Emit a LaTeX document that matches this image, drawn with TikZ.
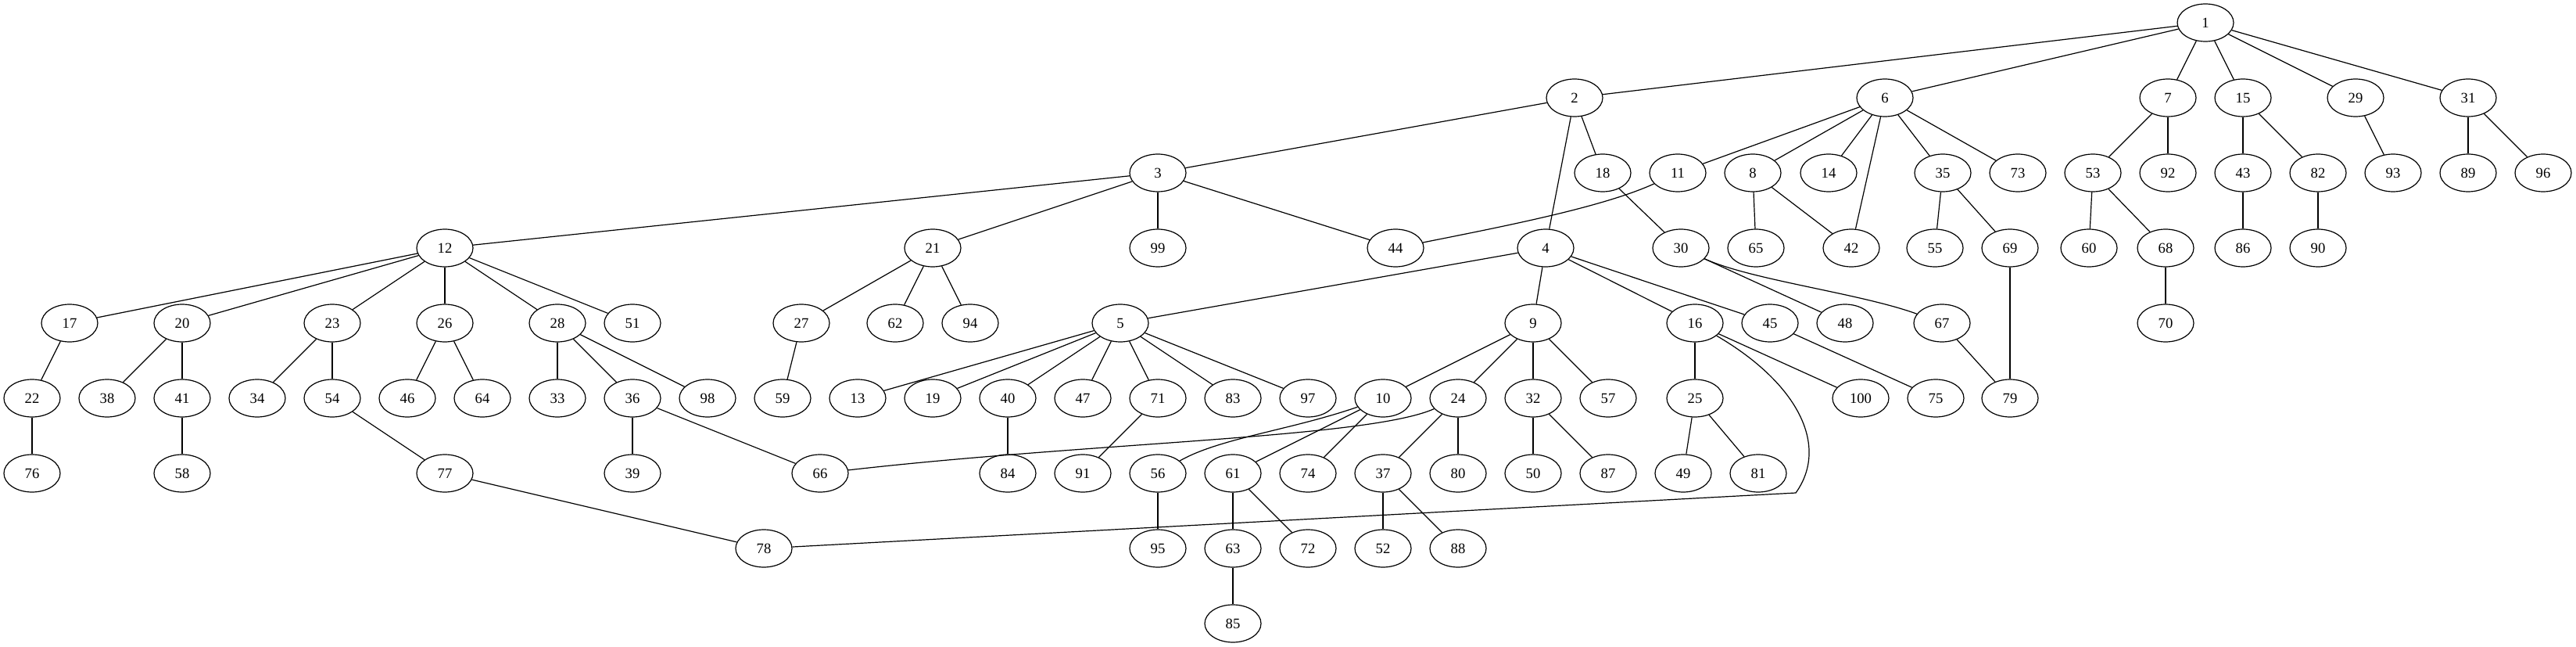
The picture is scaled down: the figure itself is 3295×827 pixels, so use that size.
\documentclass[tikz,border=0pt]{standalone}
\usepackage{fontspec}
\setmainfont{Liberation Serif}
\usetikzlibrary{shapes.geometric}
\tikzset{
  gnode/.style={ellipse,draw,line width=0.9pt,minimum width=54pt,minimum height=36pt,inner sep=0pt,font=\fontsize{14}{16}\selectfont},
  gedge/.style={line width=0.9pt}
}
\begin{document}
\begin{tikzpicture}[x=0.75pt,y=-0.75pt]
\useasboundingbox (0,0) rectangle (3295,827);
% row 0
\node[gnode] (n1) at (2821,29) {1};
% row 1
\node[gnode] (n2) at (2014,125) {2};
\node[gnode] (n6) at (2411,125) {6};
\node[gnode] (n7) at (2773,125) {7};
\node[gnode] (n15) at (2869,125) {15};
\node[gnode] (n29) at (3013,125) {29};
\node[gnode] (n31) at (3157,125) {31};
% row 2
\node[gnode] (n3) at (1481,221) {3};
\node[gnode] (n18) at (2050,221) {18};
\node[gnode] (n11) at (2146,221) {11};
\node[gnode] (n8) at (2242,221) {8};
\node[gnode] (n14) at (2339,221) {14};
\node[gnode] (n35) at (2485,221) {35};
\node[gnode] (n73) at (2581,221) {73};
\node[gnode] (n53) at (2677,221) {53};
\node[gnode] (n92) at (2773,221) {92};
\node[gnode] (n43) at (2869,221) {43};
\node[gnode] (n82) at (2965,221) {82};
\node[gnode] (n93) at (3061,221) {93};
\node[gnode] (n89) at (3157,221) {89};
\node[gnode] (n96) at (3253,221) {96};
% row 3
\node[gnode] (n12) at (569,317) {12};
\node[gnode] (n21) at (1193,317) {21};
\node[gnode] (n99) at (1481,317) {99};
\node[gnode] (n44) at (1785,317) {44};
\node[gnode] (n4) at (1977,317) {4};
\node[gnode] (n30) at (2150,317) {30};
\node[gnode] (n65) at (2246,317) {65};
\node[gnode] (n42) at (2368,317) {42};
\node[gnode] (n55) at (2475,317) {55};
\node[gnode] (n69) at (2571,317) {69};
\node[gnode] (n60) at (2672,317) {60};
\node[gnode] (n68) at (2770,317) {68};
\node[gnode] (n86) at (2869,317) {86};
\node[gnode] (n90) at (2965,317) {90};
% row 4
\node[gnode] (n17) at (89,413) {17};
\node[gnode] (n20) at (233,413) {20};
\node[gnode] (n23) at (425,413) {23};
\node[gnode] (n26) at (569,413) {26};
\node[gnode] (n28) at (713,413) {28};
\node[gnode] (n51) at (809,413) {51};
\node[gnode] (n27) at (1025,413) {27};
\node[gnode] (n62) at (1145,413) {62};
\node[gnode] (n94) at (1241,413) {94};
\node[gnode] (n5) at (1433,413) {5};
\node[gnode] (n9) at (1961,413) {9};
\node[gnode] (n16) at (2168,413) {16};
\node[gnode] (n45) at (2264,413) {45};
\node[gnode] (n48) at (2360,413) {48};
\node[gnode] (n67) at (2484,413) {67};
\node[gnode] (n70) at (2770,413) {70};
% row 5
\node[gnode] (n22) at (41,509) {22};
\node[gnode] (n38) at (137,509) {38};
\node[gnode] (n41) at (233,509) {41};
\node[gnode] (n34) at (329,509) {34};
\node[gnode] (n54) at (425,509) {54};
\node[gnode] (n46) at (521,509) {46};
\node[gnode] (n64) at (617,509) {64};
\node[gnode] (n33) at (713,509) {33};
\node[gnode] (n36) at (809,509) {36};
\node[gnode] (n98) at (905,509) {98};
\node[gnode] (n59) at (1001,509) {59};
\node[gnode] (n13) at (1097,509) {13};
\node[gnode] (n19) at (1193,509) {19};
\node[gnode] (n40) at (1289,509) {40};
\node[gnode] (n47) at (1385,509) {47};
\node[gnode] (n71) at (1481,509) {71};
\node[gnode] (n83) at (1577,509) {83};
\node[gnode] (n97) at (1673,509) {97};
\node[gnode] (n10) at (1769,509) {10};
\node[gnode] (n24) at (1865,509) {24};
\node[gnode] (n32) at (1961,509) {32};
\node[gnode] (n57) at (2057,509) {57};
\node[gnode] (n25) at (2168,509) {25};
\node[gnode] (n100) at (2380,509) {100};
\node[gnode] (n75) at (2476,509) {75};
\node[gnode] (n79) at (2571,509) {79};
% row 6
\node[gnode] (n76) at (41,605) {76};
\node[gnode] (n58) at (233,605) {58};
\node[gnode] (n77) at (569,605) {77};
\node[gnode] (n39) at (809,605) {39};
\node[gnode] (n66) at (1049,605) {66};
\node[gnode] (n84) at (1289,605) {84};
\node[gnode] (n91) at (1385,605) {91};
\node[gnode] (n56) at (1481,605) {56};
\node[gnode] (n61) at (1577,605) {61};
\node[gnode] (n74) at (1673,605) {74};
\node[gnode] (n37) at (1769,605) {37};
\node[gnode] (n80) at (1865,605) {80};
\node[gnode] (n50) at (1961,605) {50};
\node[gnode] (n87) at (2057,605) {87};
\node[gnode] (n49) at (2153,605) {49};
\node[gnode] (n81) at (2249,605) {81};
% row 7
\node[gnode] (n78) at (977,701) {78};
\node[gnode] (n95) at (1481,701) {95};
\node[gnode] (n63) at (1577,701) {63};
\node[gnode] (n72) at (1673,701) {72};
\node[gnode] (n52) at (1769,701) {52};
\node[gnode] (n88) at (1865,701) {88};
% row 8
\node[gnode] (n85) at (1577,797) {85};
% edges
\begin{scope}[gedge]
\draw (n1) -- (n2); \draw (n1) -- (n6); \draw (n1) -- (n7); \draw (n1) -- (n15);
\draw (n1) -- (n29); \draw (n1) -- (n31);
\draw (n2) -- (n3); \draw (n2) -- (n4); \draw (n2) -- (n18);
\draw (n3) -- (n12); \draw (n3) -- (n21); \draw (n3) -- (n99); \draw (n3) -- (n44);
\draw (n6) -- (n11); \draw (n6) -- (n8); \draw (n6) -- (n14); \draw (n6) -- (n42);
\draw (n6) -- (n35); \draw (n6) -- (n73);
\draw (n7) -- (n53); \draw (n7) -- (n92);
\draw (n15) -- (n43); \draw (n15) -- (n82);
\draw (n29) -- (n93);
\draw (n31) -- (n89); \draw (n31) -- (n96);
\draw (n18) -- (n30);
\draw (n11) .. controls (2050,265) and (1920,290) .. (n44);
\draw (n8) -- (n65); \draw (n8) -- (n42);
\draw (n35) -- (n55); \draw (n35) -- (n69);
\draw (n53) -- (n60); \draw (n53) -- (n68);
\draw (n43) -- (n86);
\draw (n82) -- (n90);
\draw (n12) -- (n17); \draw (n12) -- (n20); \draw (n12) -- (n23); \draw (n12) -- (n26);
\draw (n12) -- (n28); \draw (n12) -- (n51);
\draw (n21) -- (n27); \draw (n21) -- (n62); \draw (n21) -- (n94);
\draw (n4) -- (n5); \draw (n4) -- (n9); \draw (n4) -- (n16); \draw (n4) -- (n45);
\draw (n30) -- (n48);
\draw (n30) .. controls (2240,358) and (2380,375) .. (n67);
\draw (n69) -- (n79);
\draw (n68) -- (n70);
\draw (n17) -- (n22);
\draw (n20) -- (n38); \draw (n20) -- (n41);
\draw (n23) -- (n34); \draw (n23) -- (n54);
\draw (n26) -- (n46); \draw (n26) -- (n64);
\draw (n28) -- (n33); \draw (n28) -- (n36); \draw (n28) -- (n98);
\draw (n27) -- (n59);
\draw (n5) -- (n13); \draw (n5) -- (n19); \draw (n5) -- (n40); \draw (n5) -- (n47);
\draw (n5) -- (n71); \draw (n5) -- (n83); \draw (n5) -- (n97);
\draw (n9) -- (n10); \draw (n9) -- (n24); \draw (n9) -- (n32); \draw (n9) -- (n57);
\draw (n16) -- (n25); \draw (n16) -- (n100);
\coordinate (k78) at (2297,630);
\draw (n16) .. controls (2300,490) and (2340,570) .. (k78) -- (n78);
\draw (n45) -- (n75);
\draw (n67) -- (n79);
\draw (n22) -- (n76);
\draw (n41) -- (n58);
\draw (n54) -- (n77);
\draw (n36) -- (n39); \draw (n36) -- (n66);
\draw (n40) -- (n84);
\draw (n71) -- (n91);
\draw (n10) .. controls (1650,550) and (1560,560) .. (n56);
\draw (n10) -- (n61); \draw (n10) -- (n74);
\draw (n24) .. controls (1750,560) and (1400,565) .. (n66);
\draw (n24) -- (n37); \draw (n24) -- (n80);
\draw (n32) -- (n50); \draw (n32) -- (n87);
\draw (n25) -- (n49); \draw (n25) -- (n81);
\draw (n61) -- (n63); \draw (n61) -- (n72);
\draw (n37) -- (n52); \draw (n37) -- (n88);
\draw (n77) -- (n78);
\draw (n56) -- (n95);
\draw (n63) -- (n85);
\end{scope}
\end{tikzpicture}
\end{document}
